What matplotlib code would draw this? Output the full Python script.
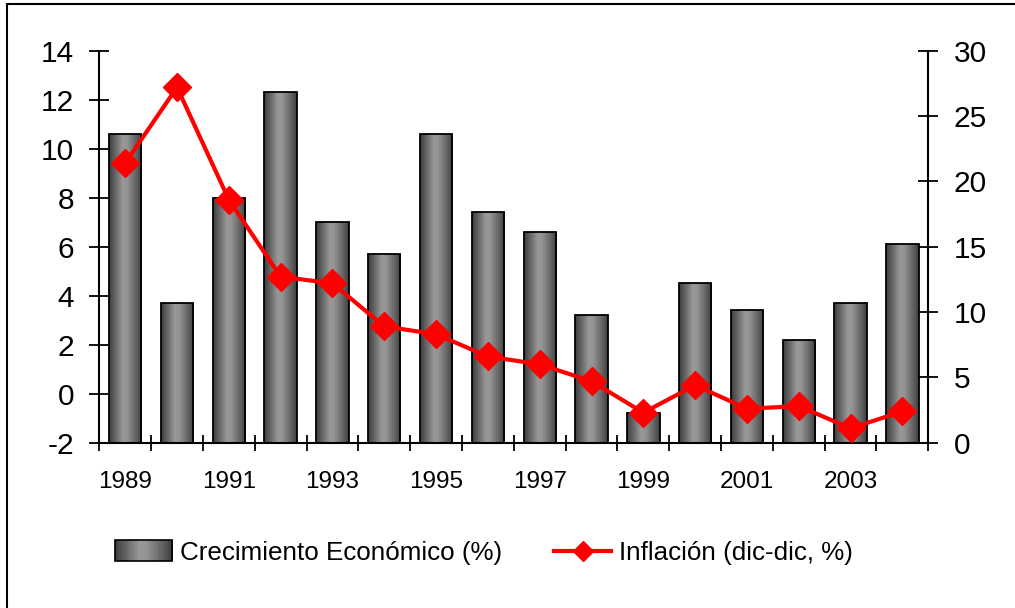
import numpy as np
import matplotlib
matplotlib.use("Agg")
import matplotlib.pyplot as plt
from matplotlib.patches import Rectangle
from matplotlib.lines import Line2D
from matplotlib.legend_handler import HandlerBase
from matplotlib.colors import LinearSegmentedColormap

years = list(range(1989, 2005))
crecimiento = [10.6, 3.7, 8.0, 12.3, 7.0, 5.7, 10.6, 7.4, 6.6, 3.2, -0.8, 4.5, 3.4, 2.2, 3.7, 6.1]
inflacion = [21.4, 27.2, 18.6, 12.7, 12.2, 8.9, 8.3, 6.6, 6.0, 4.7, 2.3, 4.4, 2.6, 2.8, 1.1, 2.4]
xlabels = ["1989", "", "1991", "", "1993", "", "1995", "", "1997", "", "1999", "", "2001", "", "2003", ""]
left_ticks = [-2, 0, 2, 4, 6, 8, 10, 12, 14]
right_ticks = [0, 5, 10, 15, 20, 25, 30]
lbl_bar = "Crecimiento Económico (%)"
lbl_line = "Inflación (dic-dic, %)"

plt.rcParams['font.family'] = ['Liberation Sans', 'DejaVu Sans']

W, H = 1015, 608
fig = plt.figure(figsize=(W / 100, H / 100), dpi=100)
ax = fig.add_axes([99.3 / W, 1 - 442.7 / H, (928.3 - 99.3) / W, (442.7 - 50.7) / H])

# outer frame
fig.patches.append(Rectangle((7 / W, -0.05), 1.2, 1 - 4 / H + 0.05, transform=fig.transFigure,
                             fill=False, edgecolor='black', linewidth=1.5, zorder=0))

cmap = LinearSegmentedColormap.from_list(
    "cyl", [(0.0, "#3e3e3e"), (0.15, "#5c5c5c"), (0.42, "#989898"), (0.55, "#949494"),
            (0.85, "#5e5e5e"), (1.0, "#3e3e3e")])
grad = np.linspace(0, 1, 256).reshape(1, -1)

x = np.arange(len(years))
base = left_ticks[0]
bars = ax.bar(x, np.array(crecimiento) - base, bottom=base, width=0.625,
              facecolor='none', edgecolor='black', linewidth=1.3, zorder=3)
for b in bars:
    x0, y0 = b.get_x(), b.get_y()
    ax.imshow(grad, extent=(x0, x0 + b.get_width(), y0, y0 + b.get_height()),
              aspect='auto', cmap=cmap, clip_path=b, zorder=2, interpolation='bilinear')

ax.set_xlim(-0.5, len(years) - 0.5)
ax.set_ylim(left_ticks[0], left_ticks[-1])
ax.set_yticks(left_ticks)
ax.set_yticklabels([str(t) for t in left_ticks])
ax.set_xticks(x)
ax.set_xticklabels(xlabels)
ax.set_xticks(np.arange(-0.5, len(years)), minor=True)
ax.tick_params(axis='x', which='major', length=0, pad=20.5, labelsize=17.5)
ax.tick_params(axis='x', which='minor', direction='inout', length=12, width=1.3)
ax.tick_params(axis='y', direction='inout', length=14.4, width=1.3, pad=11, labelsize=21.5)
for s in ['top', 'right']:
    ax.spines[s].set_visible(False)
for s in ['left', 'bottom']:
    ax.spines[s].set_linewidth(1.5)

ax2 = ax.twinx()
ax2.plot(x, inflacion, color='#ff0000', linewidth=3, marker='D', markersize=14,
         markeredgecolor='#ff0000', markerfacecolor='#ff0000', zorder=5)
ax2.set_ylim(right_ticks[0], right_ticks[-1])
ax2.set_yticks(right_ticks)
ax2.set_yticklabels([str(t) for t in right_ticks])
ax2.tick_params(axis='y', direction='inout', length=14.4, width=1.3, pad=11, labelsize=21.5)
for s in ['top', 'left', 'bottom']:
    ax2.spines[s].set_visible(False)
ax2.spines['right'].set_linewidth(1.5)
ax2.set_xlim(-0.5, len(years) - 0.5)


class GradientHandler(HandlerBase):
    def create_artists(self, legend, orig_handle, xdescent, ydescent, width, height, fontsize, trans):
        arts = []
        n = 40
        for i in range(n):
            c = cmap((i + 0.5) / n)
            arts.append(Rectangle((-xdescent + width * i / n, -ydescent - 1), width / n + 0.3, height + 2,
                                  facecolor=c, edgecolor='none', transform=trans))
        arts.append(Rectangle((-xdescent, -ydescent - 1), width, height + 2, facecolor='none',
                              edgecolor='black', linewidth=1.2, transform=trans))
        return arts


bar_handle = Rectangle((0, 0), 1, 1)
line_handle = Line2D([], [], color='#ff0000', linewidth=3, marker='D', markersize=10,
                     markerfacecolor='#ff0000', markeredgecolor='#ff0000')
fig.legend([bar_handle, line_handle], [lbl_bar, lbl_line], loc='center',
           bbox_to_anchor=(484 / W, 1 - 553 / H), ncol=2, frameon=False, fontsize=18.7,
           handlelength=2.2, handletextpad=0.3, columnspacing=2.0,
           handler_map={Rectangle: GradientHandler()})

fig.savefig("out.png", dpi=100)
